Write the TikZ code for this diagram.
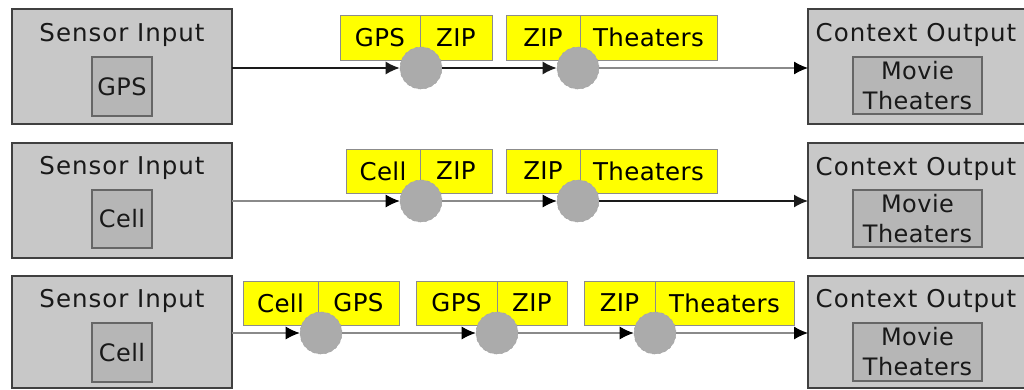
\documentclass[tikz,border=0pt]{standalone}
\usepackage{fontspec}
\setmainfont{DejaVu Sans}
\usetikzlibrary{arrows.meta}
\definecolor{boxfill}{HTML}{C8C8C8}
\definecolor{innerfill}{HTML}{B6B6B6}
\definecolor{circfill}{HTML}{ABABAB}
\definecolor{lightline}{HTML}{8A8A8A}
\definecolor{darkline}{HTML}{1A1A1A}
\definecolor{cellyellow}{HTML}{FFFF00}
\tikzset{
  outerbox/.style={draw=black!75, line width=1.4pt, fill=boxfill},
  innerbox/.style={draw=black!60, line width=1.2pt, fill=innerfill, inner sep=0pt, align=center, text=black!90, font=\fontsize{24}{30}\selectfont\addfontfeature{LetterSpace=2}},
  title/.style={font=\fontsize{24.5}{27}\selectfont\addfontfeature{LetterSpace=4}, text=black!90},
  cell/.style={draw=black!45, line width=0.9pt, fill=cellyellow, inner sep=0pt, font=\fontsize{24.5}{27}\selectfont\addfontfeature{LetterSpace=1.5}},
  proc/.style={circle, fill=circfill, draw=black!35, dashed, line width=0.6pt, minimum size=42pt, inner sep=0pt},
  darkarrow/.style={draw=darkline, line width=1.6pt, -{Latex[length=14pt,width=13pt]}},
  lightarrow/.style={draw=lightline, line width=1.1pt, -{Latex[length=14pt,width=13pt,fill=black,color=black]}},
}
\begin{document}
\begin{tikzpicture}[x=1pt,y=-1pt]
\useasboundingbox (0,0) rectangle (1024,389);
% ---------- Row 1 ----------
\path[outerbox] (12,9) rectangle (232,124);
\node[title] (t1) at (122,35) {Sensor Input};
\node[innerbox, minimum width=60pt, minimum height=59pt] (in1) at (122,86.5) {GPS};
\coordinate (l1) at (232,68);
\path[outerbox] (808,9) rectangle (1030,124);
\node[title] (o1) at (916,35) {Context Output};
\node[innerbox, minimum width=129pt, minimum height=57pt] (out1) at (917.5,85.5) {Movie\\Theaters};
\coordinate (r1) at (808,68);
\node[cell, minimum width=80pt, minimum height=45pt] (a1) at (380,37.5) {GPS};
\node[cell, minimum width=72pt, minimum height=45pt] (b1) at (456,37.5) {ZIP};
\node[cell, minimum width=74pt, minimum height=45pt] (c1) at (543,37.5) {ZIP};
\node[cell, minimum width=137pt, minimum height=45pt] (d1) at (648.5,37.5) {Theaters};
\node[proc] (p11) at (421,68) {};
\node[proc] (p12) at (578,68) {};
\draw[darkarrow] (l1) -- (p11);
\draw[darkarrow] (p11) -- (p12);
\draw[lightarrow] (p12) -- (r1);
% ---------- Row 2 ----------
\path[outerbox] (12,143) rectangle (232,258);
\node[title] (t2) at (122,168) {Sensor Input};
\node[innerbox, minimum width=60pt, minimum height=58pt] (in2) at (122,219) {Cell};
\coordinate (l2) at (232,201);
\path[outerbox] (808,143) rectangle (1030,258);
\node[title] (o2) at (916,169) {Context Output};
\node[innerbox, minimum width=129pt, minimum height=57pt] (out2) at (917.5,218.5) {Movie\\Theaters};
\coordinate (r2) at (808,201);
\node[cell, minimum width=74pt, minimum height=44pt] (a2) at (383,171) {Cell};
\node[cell, minimum width=72pt, minimum height=44pt] (b2) at (456,171) {ZIP};
\node[cell, minimum width=74pt, minimum height=44pt] (c2) at (543,171) {ZIP};
\node[cell, minimum width=137pt, minimum height=44pt] (d2) at (648.5,171) {Theaters};
\node[proc] (p21) at (421,201) {};
\node[proc] (p22) at (578,201) {};
\draw[lightarrow] (l2) -- (p21);
\draw[lightarrow] (p21) -- (p22);
\draw[darkarrow] (p22) -- (r2);
% ---------- Row 3 ----------
\path[outerbox] (12,276) rectangle (232,388);
\node[title] (t3) at (122,301) {Sensor Input};
\node[innerbox, minimum width=60pt, minimum height=59pt] (in3) at (122,352.5) {Cell};
\coordinate (l3) at (232,333);
\path[outerbox] (808,276) rectangle (1030,388);
\node[title] (o3) at (916,301) {Context Output};
\node[innerbox, minimum width=129pt, minimum height=58pt] (out3) at (917.5,352) {Movie\\Theaters};
\coordinate (r3) at (808,333);
\node[cell, minimum width=75pt, minimum height=44pt] (a3) at (280.5,303) {Cell};
\node[cell, minimum width=81pt, minimum height=44pt] (b3) at (358.5,303) {GPS};
\node[cell, minimum width=81pt, minimum height=44pt] (c3) at (456.5,303) {GPS};
\node[cell, minimum width=70pt, minimum height=44pt] (d3) at (532,303) {ZIP};
\node[cell, minimum width=71pt, minimum height=44pt] (e3) at (619.5,303) {ZIP};
\node[cell, minimum width=139pt, minimum height=44pt] (f3) at (724.5,303) {Theaters};
\node[proc] (p31) at (321,333) {};
\node[proc] (p32) at (497,333) {};
\node[proc] (p33) at (655,333) {};
\draw[lightarrow] (l3) -- (p31);
\draw[lightarrow] (p31) -- (p32);
\draw[lightarrow] (p32) -- (p33);
\draw[lightarrow] (p33) -- (r3);
\end{tikzpicture}
\end{document}
